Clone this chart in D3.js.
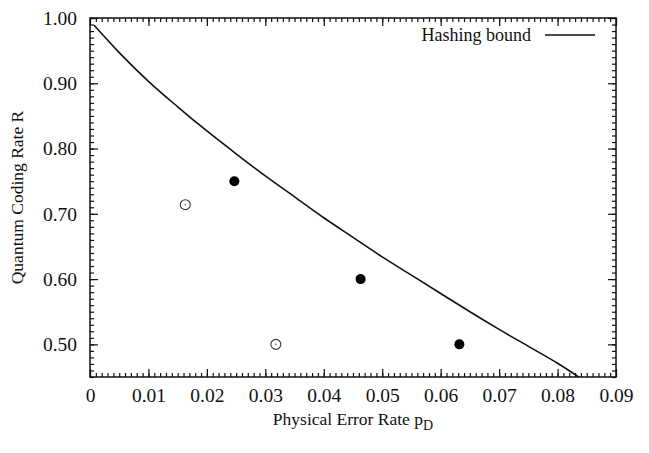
<!DOCTYPE html>
<html>
<head>
<meta charset="utf-8">
<script src="https://cdn.jsdelivr.net/npm/d3@7"></script>
<style>
  body { margin: 0; background: #fff; }
  text { font-family: "Liberation Serif", "DejaVu Serif", serif; fill: #111; }
</style>
</head>
<body>
<svg id="chart" width="649" height="453"></svg>
<script>
// hashing bound
const boundP = [0.0007, 0.005, 0.01, 0.015, 0.02, 0.025, 0.03, 0.035, 0.04, 0.045,
	0.05, 0.055, 0.06, 0.065, 0.07, 0.075, 0.08, 0.0838];
const boundR = [0.989, 0.947, 0.903, 0.864, 0.827, 0.792, 0.758, 0.726, 0.694, 0.664,
	0.634, 0.606, 0.578, 0.550, 0.523, 0.497, 0.471, 0.449];

// codes
const filledP = [0.0247, 0.0463, 0.0632];
const filledR = [0.75, 0.60, 0.50];
const openP = [0.0163, 0.0318];
const openR = [0.714, 0.50];

const xTicks = [0, 0.01, 0.02, 0.03, 0.04, 0.05, 0.06, 0.07, 0.08, 0.09];
const xTickLabels = ['0', '0.01', '0.02', '0.03', '0.04', '0.05', '0.06', '0.07', '0.08', '0.09'];
const yTicks = [0.50, 0.60, 0.70, 0.80, 0.90, 1.00];

const margin = { top: 18, right: 33, bottom: 76, left: 90 };
const width = 649 - margin.left - margin.right;
const height = 453 - margin.top - margin.bottom;

const svg = d3.select('#chart');
const g = svg.append('g')
	.attr('transform', 'translate(' + margin.left + ',' + margin.top + ')');

const x = d3.scaleLinear().domain([0, 0.09]).range([0, width]);
const y = d3.scaleLinear().domain([0.45, 1.00]).range([height, 0]);

const minorX = d3.range(0, 91).map(i => i / 1000);
const minorY = d3.range(45, 101).map(i => i / 100);

// ticks pointing inward on all four sides
const tickLine = (sel) => sel.select('.domain').remove();

g.append('g').attr('transform', 'translate(0,' + height + ')')
	.call(d3.axisBottom(x).tickValues(minorX).tickSize(-4).tickFormat(''))
	.call(tickLine);
g.append('g').attr('transform', 'translate(0,' + height + ')')
	.call(d3.axisBottom(x).tickValues(xTicks).tickSize(-8).tickPadding(11)
		.tickFormat((d, i) => xTickLabels[i]))
	.call(tickLine)
	.selectAll('text').style('font-size', '19.5px');

g.append('g')
	.call(d3.axisTop(x).tickValues(minorX).tickSize(-4).tickFormat(''))
	.call(tickLine);
g.append('g')
	.call(d3.axisTop(x).tickValues(xTicks).tickSize(-8).tickFormat(''))
	.call(tickLine);

g.append('g')
	.call(d3.axisLeft(y).tickValues(minorY).tickSize(-4).tickFormat(''))
	.call(tickLine);
g.append('g')
	.call(d3.axisLeft(y).tickValues(yTicks).tickSize(-8).tickPadding(13).tickFormat(d3.format('.2f')))
	.call(tickLine)
	.selectAll('text').style('font-size', '19.5px');

g.append('g').attr('transform', 'translate(' + width + ',0)')
	.call(d3.axisRight(y).tickValues(minorY).tickSize(-4).tickFormat(''))
	.call(tickLine);
g.append('g').attr('transform', 'translate(' + width + ',0)')
	.call(d3.axisRight(y).tickValues(yTicks).tickSize(-8).tickFormat(''))
	.call(tickLine);

g.selectAll('.tick line').attr('stroke', '#111').attr('stroke-width', 1.2);

// frame
g.append('rect')
	.attr('width', width).attr('height', height)
	.attr('fill', 'none').attr('stroke', '#111').attr('stroke-width', 1.5);

g.append('clipPath').attr('id', 'clip')
	.append('rect').attr('width', width).attr('height', height);

const line = d3.line()
	.x(d => x(d[0]))
	.y(d => y(d[1]))
	.curve(d3.curveMonotoneX);

g.append('path')
	.datum(d3.zip(boundP, boundR))
	.attr('clip-path', 'url(#clip)')
	.attr('d', line)
	.attr('fill', 'none')
	.attr('stroke', '#111')
	.attr('stroke-width', 1.6);

g.selectAll('.filled')
	.data(d3.zip(filledP, filledR))
	.join('circle')
	.attr('class', 'filled')
	.attr('cx', d => x(d[0]))
	.attr('cy', d => y(d[1]))
	.attr('r', 5)
	.attr('fill', '#000');

const open = g.selectAll('.open')
	.data(d3.zip(openP, openR))
	.join('g')
	.attr('class', 'open')
	.attr('transform', d => 'translate(' + x(d[0]) + ',' + y(d[1]) + ')');
open.append('circle').attr('r', 5).attr('fill', '#fff')
	.attr('stroke', '#333').attr('stroke-width', 1.1);
open.append('circle').attr('r', 0.8).attr('fill', '#555');

// legend
const legend = g.append('g').attr('transform', 'translate(' + (width - 85) + ',17)');
legend.append('text')
	.attr('x', 0).attr('y', 0).attr('dy', '0.35em')
	.attr('text-anchor', 'end')
	.style('font-size', '18px')
	.text('Hashing bound');
legend.append('line')
	.attr('x1', 14).attr('x2', 64)
	.attr('stroke', '#111').attr('stroke-width', 1.6);

// axis labels
const xLabel = svg.append('text')
	.attr('x', margin.left + width / 2)
	.attr('y', 425)
	.attr('text-anchor', 'middle')
	.style('font-size', '17.5px')
	.text('Physical Error Rate p');
xLabel.append('tspan').style('font-size', '14px').attr('dy', 5).text('D');

svg.append('text')
	.attr('transform', 'translate(23,' + (margin.top + height / 2) + ') rotate(-90)')
	.attr('text-anchor', 'middle')
	.style('font-size', '17.5px')
	.text('Quantum Coding Rate R');
</script>
</body>
</html>
